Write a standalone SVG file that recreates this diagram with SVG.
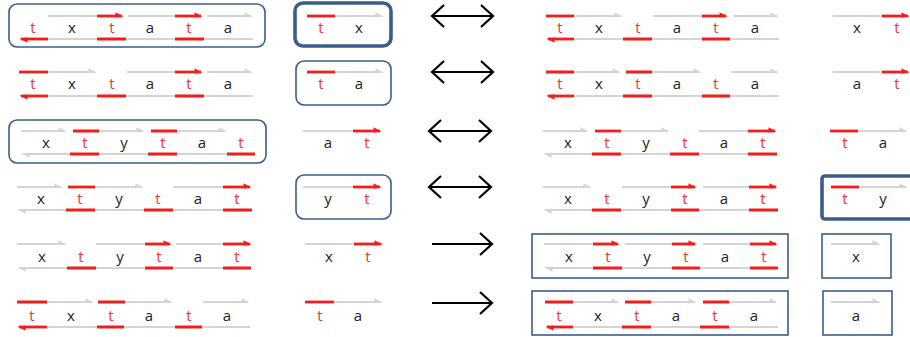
<svg xmlns="http://www.w3.org/2000/svg" width="910" height="337" viewBox="0 0 910 337">
<style>
.g{stroke:#d4d4d4;stroke-width:2.2;fill:none}
.r{stroke:#f21d1d;stroke-width:2.8;fill:none}
text{font-family:"Open Sans","DejaVu Sans",sans-serif;font-size:15px;fill:#222;text-anchor:middle}
text.t{fill:#f03434}
.box{fill:none;stroke:#3a5d8a;stroke-width:1.6}
.thick{stroke-width:3.6}
.conn{stroke:#000;stroke-width:2.2;fill:none}
</style>
<defs>
<marker id="mr" viewBox="-10 -6 12 12" refX="0" refY="0" markerWidth="12" markerHeight="12" markerUnits="userSpaceOnUse" orient="auto" overflow="visible"><path d="M1.5,0.5 L-6.5,-3.8 L-6.5,1.4 Z" fill="#f21d1d"/></marker>
<marker id="mg" viewBox="-10 -6 12 12" refX="0" refY="0" markerWidth="12" markerHeight="12" markerUnits="userSpaceOnUse" orient="auto" overflow="visible"><path d="M1.5,0.5 L-6.5,-3.8 L-6.5,1.2 Z" fill="#d4d4d4"/></marker>
<marker id="ch" viewBox="-14 -13 16 26" refX="0" refY="0" markerWidth="16" markerHeight="26" markerUnits="userSpaceOnUse" orient="auto-start-reverse" overflow="visible"><path d="M-12,-11 L0,0 L-12,11" stroke="#000" stroke-width="2.2" fill="none"/></marker>
</defs>

<!-- column 1 -->
<g id="a1">
<rect class="box" x="9" y="4" width="256" height="43" rx="8"/>
<line class="g" x1="48" y1="16" x2="97" y2="16"/>
<line class="r" x1="97" y1="16" x2="122" y2="16" marker-end="url(#mr)"/>
<line class="g" x1="128" y1="16" x2="175" y2="16"/>
<line class="r" x1="175" y1="16" x2="201" y2="16" marker-end="url(#mr)"/>
<line class="g" x1="207" y1="16" x2="251" y2="16" marker-end="url(#mg)"/>
<line class="r" x1="48" y1="39" x2="21" y2="39" marker-end="url(#mr)"/>
<path class="g" d="M48,39H97M126,39H175M204,39H253"/>
<path class="r" d="M97,39H126M175,39H204"/>
<text class="t" x="33" y="33">t</text><text x="72" y="33">x</text><text class="t" x="112" y="33">t</text><text x="150" y="33">a</text><text class="t" x="189" y="33">t</text><text x="228" y="33">a</text>
</g>
<g id="a2">
<path class="r" d="M19,72H48"/>
<line class="g" x1="48" y1="72" x2="95" y2="72" marker-end="url(#mg)"/>
<path class="g" d="M127,72H175"/>
<line class="r" x1="175" y1="72" x2="201" y2="72" marker-end="url(#mr)"/>
<line class="g" x1="207" y1="72" x2="251" y2="72" marker-end="url(#mg)"/>
<line class="r" x1="48" y1="96" x2="21" y2="96" marker-end="url(#mr)"/>
<path class="g" d="M48,96H97M126,96H175M204,96H253"/>
<path class="r" d="M97,96H126M175,96H204"/>
<text class="t" x="33" y="89">t</text><text x="72" y="89">x</text><text class="t" x="112" y="89">t</text><text x="150" y="89">a</text><text class="t" x="189" y="89">t</text><text x="228" y="89">a</text>
</g>
<g id="a3">
<rect class="box" x="9" y="120" width="257" height="43" rx="8"/>
<line class="g" x1="21" y1="131" x2="65" y2="131" marker-end="url(#mg)"/>
<path class="r" d="M73,131H99M151,131H177"/>
<line class="g" x1="99" y1="131" x2="143" y2="131" marker-end="url(#mg)"/>
<line class="g" x1="177" y1="131" x2="225" y2="131" marker-end="url(#mg)"/>
<line class="g" x1="70" y1="154" x2="23" y2="154" marker-end="url(#mg)"/>
<path class="r" d="M70,154H99M148,154H177M227,154H255"/>
<path class="g" d="M99,154H148M177,154H227"/>
<text x="46" y="148">x</text><text class="t" x="85" y="148">t</text><text x="124" y="148">y</text><text class="t" x="163" y="148">t</text><text x="202" y="148">a</text><text class="t" x="241" y="148">t</text>
</g>
<g id="a4">
<line class="g" x1="17" y1="187" x2="61" y2="187" marker-end="url(#mg)"/>
<path class="r" d="M68,187H95"/>
<line class="g" x1="95" y1="187" x2="142" y2="187" marker-end="url(#mg)"/>
<path class="g" d="M173,187H223"/>
<line class="r" x1="223" y1="187" x2="250" y2="187" marker-end="url(#mr)"/>
<line class="g" x1="66" y1="210" x2="19" y2="210" marker-end="url(#mg)"/>
<path class="r" d="M66,210H95M144,210H173M223,210H252"/>
<path class="g" d="M95,210H144M173,210H223"/>
<text x="41" y="204">x</text><text class="t" x="80" y="204">t</text><text x="119" y="204">y</text><text class="t" x="158" y="204">t</text><text x="198" y="204">a</text><text class="t" x="237" y="204">t</text>
</g>
<g id="a5">
<line class="g" x1="17" y1="244" x2="65" y2="244" marker-end="url(#mg)"/>
<path class="g" d="M96,244H145M176,244H223"/>
<line class="r" x1="145" y1="244" x2="170" y2="244" marker-end="url(#mr)"/>
<line class="r" x1="223" y1="244" x2="250" y2="244" marker-end="url(#mr)"/>
<line class="g" x1="67" y1="268" x2="19" y2="268" marker-end="url(#mg)"/>
<path class="r" d="M67,268H96M145,268H173M223,268H251"/>
<path class="g" d="M96,268H145M173,268H223"/>
<text x="42" y="262">x</text><text class="t" x="81" y="262">t</text><text x="120" y="262">y</text><text class="t" x="159" y="262">t</text><text x="198" y="262">a</text><text class="t" x="237" y="262">t</text>
</g>
<g id="a6">
<path class="r" d="M17,302H47M98,302H125"/>
<line class="g" x1="47" y1="302" x2="92" y2="302" marker-end="url(#mg)"/>
<line class="g" x1="125" y1="302" x2="171" y2="302" marker-end="url(#mg)"/>
<line class="g" x1="203" y1="302" x2="248" y2="302" marker-end="url(#mg)"/>
<line class="r" x1="47" y1="327" x2="19" y2="327" marker-end="url(#mr)"/>
<path class="g" d="M47,327H97M124,327H175M202,327H250"/>
<path class="r" d="M97,327H124M175,327H202"/>
<text class="t" x="32" y="321">t</text><text x="71" y="321">x</text><text class="t" x="111" y="321">t</text><text x="149" y="321">a</text><text class="t" x="189" y="321">t</text><text x="227" y="321">a</text>
</g>

<!-- column 2 -->
<g id="b1">
<rect class="box thick" x="295" y="3" width="96" height="43" rx="8"/>
<path class="r" d="M307,16H335"/>
<line class="g" x1="335" y1="16" x2="382" y2="16" marker-end="url(#mg)"/>
<text class="t" x="321" y="33">t</text><text x="359" y="33">x</text>
</g>
<g id="b2">
<rect class="box" x="296" y="61" width="95" height="44" rx="8"/>
<path class="r" d="M307,72H335"/>
<line class="g" x1="335" y1="72" x2="382" y2="72" marker-end="url(#mg)"/>
<text class="t" x="321" y="89">t</text><text x="359" y="89">a</text>
</g>
<g id="b3">
<path class="g" d="M303,131H353"/>
<line class="r" x1="353" y1="131" x2="380" y2="131" marker-end="url(#mr)"/>
<text x="328" y="148">a</text><text class="t" x="367" y="148">t</text>
</g>
<g id="b4">
<rect class="box" x="296" y="175" width="95" height="44" rx="8"/>
<path class="g" d="M303,187H353"/>
<line class="r" x1="353" y1="187" x2="380" y2="187" marker-end="url(#mr)"/>
<text x="328" y="204">y</text><text class="t" x="367" y="204">t</text>
</g>
<g id="b5">
<path class="g" d="M305,244H354"/>
<line class="r" x1="354" y1="244" x2="381" y2="244" marker-end="url(#mr)"/>
<text x="329" y="262">x</text><text class="t" x="368" y="262">t</text>
</g>
<g id="b6">
<path class="r" d="M305,302H334"/>
<line class="g" x1="334" y1="302" x2="381" y2="302" marker-end="url(#mg)"/>
<text class="t" x="320" y="321">t</text><text x="358" y="321">a</text>
</g>

<!-- connectors -->
<g id="connectors">
<line class="conn" x1="432" y1="16" x2="493" y2="16" marker-start="url(#ch)" marker-end="url(#ch)"/>
<line class="conn" x1="432" y1="72" x2="493" y2="72" marker-start="url(#ch)" marker-end="url(#ch)"/>
<line class="conn" x1="429" y1="131" x2="491" y2="131" marker-start="url(#ch)" marker-end="url(#ch)"/>
<line class="conn" x1="429" y1="187" x2="491" y2="187" marker-start="url(#ch)" marker-end="url(#ch)"/>
<line class="conn" x1="432" y1="244" x2="492" y2="244" marker-end="url(#ch)"/>
<line class="conn" x1="432" y1="303" x2="492" y2="303" marker-end="url(#ch)"/>
</g>

<!-- column 3 -->
<g id="c1">
<path class="r" d="M546,16H574"/>
<line class="g" x1="574" y1="16" x2="621" y2="16" marker-end="url(#mg)"/>
<path class="g" d="M653,16H702"/>
<line class="r" x1="702" y1="16" x2="726" y2="16" marker-end="url(#mr)"/>
<line class="g" x1="733" y1="16" x2="777" y2="16" marker-end="url(#mg)"/>
<line class="r" x1="574" y1="39" x2="548" y2="39" marker-end="url(#mr)"/>
<path class="g" d="M574,39H623M652,39H702M730,39H779"/>
<path class="r" d="M623,39H652M702,39H730"/>
<text class="t" x="560" y="33">t</text><text x="599" y="33">x</text><text class="t" x="638" y="33">t</text><text x="677" y="33">a</text><text class="t" x="716" y="33">t</text><text x="755" y="33">a</text>
</g>
<g id="c2">
<path class="r" d="M546,72H574M626,72H652"/>
<line class="g" x1="574" y1="72" x2="619" y2="72" marker-end="url(#mg)"/>
<line class="g" x1="652" y1="72" x2="700" y2="72" marker-end="url(#mg)"/>
<line class="g" x1="731" y1="72" x2="777" y2="72" marker-end="url(#mg)"/>
<line class="r" x1="574" y1="96" x2="548" y2="96" marker-end="url(#mr)"/>
<path class="g" d="M574,96H623M652,96H702M730,96H779"/>
<path class="r" d="M623,96H652M702,96H730"/>
<text class="t" x="560" y="89">t</text><text x="599" y="89">x</text><text class="t" x="638" y="89">t</text><text x="677" y="89">a</text><text class="t" x="716" y="89">t</text><text x="755" y="89">a</text>
</g>
<g id="c3">
<line class="g" x1="543" y1="131" x2="587" y2="131" marker-end="url(#mg)"/>
<path class="r" d="M595,131H621"/>
<line class="g" x1="621" y1="131" x2="668" y2="131" marker-end="url(#mg)"/>
<path class="g" d="M699,131H748"/>
<line class="r" x1="748" y1="131" x2="775" y2="131" marker-end="url(#mr)"/>
<line class="g" x1="592" y1="154" x2="545" y2="154" marker-end="url(#mg)"/>
<path class="r" d="M592,154H621M670,154H699M748,154H777"/>
<path class="g" d="M621,154H670M699,154H748"/>
<text x="568" y="148">x</text><text class="t" x="607" y="148">t</text><text x="646" y="148">y</text><text class="t" x="685" y="148">t</text><text x="724" y="148">a</text><text class="t" x="763" y="148">t</text>
</g>
<g id="c4">
<line class="g" x1="543" y1="187" x2="590" y2="187" marker-end="url(#mg)"/>
<path class="g" d="M622,187H671M703,187H749"/>
<line class="r" x1="671" y1="187" x2="695" y2="187" marker-end="url(#mr)"/>
<line class="r" x1="749" y1="187" x2="776" y2="187" marker-end="url(#mr)"/>
<line class="g" x1="592" y1="210" x2="545" y2="210" marker-end="url(#mg)"/>
<path class="r" d="M592,210H621M671,210H699M749,210H778"/>
<path class="g" d="M621,210H671M699,210H749"/>
<text x="568" y="204">x</text><text class="t" x="607" y="204">t</text><text x="646" y="204">y</text><text class="t" x="685" y="204">t</text><text x="724" y="204">a</text><text class="t" x="763" y="204">t</text>
</g>
<g id="c5">
<rect class="box" x="532" y="234" width="256" height="44"/>
<path class="g" d="M544,244H593M625,244H672M703,244H750"/>
<line class="r" x1="593" y1="244" x2="618" y2="244" marker-end="url(#mr)"/>
<line class="r" x1="672" y1="244" x2="695" y2="244" marker-end="url(#mr)"/>
<line class="r" x1="750" y1="244" x2="776" y2="244" marker-end="url(#mr)"/>
<line class="g" x1="593" y1="268" x2="546" y2="268" marker-end="url(#mg)"/>
<path class="r" d="M593,268H622M672,268H700M750,268H778"/>
<path class="g" d="M622,268H672M700,268H750"/>
<text x="569" y="262">x</text><text class="t" x="608" y="262">t</text><text x="647" y="262">y</text><text class="t" x="686" y="262">t</text><text x="725" y="262">a</text><text class="t" x="764" y="262">t</text>
</g>
<g id="c6">
<rect class="box" x="532" y="291" width="256" height="44"/>
<path class="r" d="M545,302H573M625,302H651M703,302H729"/>
<line class="g" x1="573" y1="302" x2="618" y2="302" marker-end="url(#mg)"/>
<line class="g" x1="651" y1="302" x2="695" y2="302" marker-end="url(#mg)"/>
<line class="g" x1="729" y1="302" x2="776" y2="302" marker-end="url(#mg)"/>
<line class="r" x1="573" y1="327" x2="547" y2="327" marker-end="url(#mr)"/>
<path class="g" d="M573,327H622M651,327H700M729,327H778"/>
<path class="r" d="M622,327H651M700,327H729"/>
<text class="t" x="559" y="321">t</text><text x="598" y="321">x</text><text class="t" x="637" y="321">t</text><text x="676" y="321">a</text><text class="t" x="715" y="321">t</text><text x="754" y="321">a</text>
</g>

<!-- column 4 -->
<g id="d1">
<path class="g" d="M833,16H882"/>
<line class="r" x1="882" y1="16" x2="908" y2="16" marker-end="url(#mr)"/>
<text x="857" y="33">x</text><text class="t" x="897" y="33">t</text>
</g>
<g id="d2">
<path class="g" d="M833,72H882"/>
<line class="r" x1="882" y1="72" x2="908" y2="72" marker-end="url(#mr)"/>
<text x="857" y="89">a</text><text class="t" x="897" y="89">t</text>
</g>
<g id="d3">
<path class="r" d="M830,131H858"/>
<line class="g" x1="858" y1="131" x2="906" y2="131" marker-end="url(#mg)"/>
<text class="t" x="845" y="148">t</text><text x="883" y="148">a</text>
</g>
<g id="d4">
<rect class="box thick" x="822" y="176" width="100" height="43" rx="3"/>
<path class="r" d="M831,187H859"/>
<line class="g" x1="859" y1="187" x2="906" y2="187" marker-end="url(#mg)"/>
<text class="t" x="845" y="204">t</text><text x="883" y="204">y</text>
</g>
<g id="d5">
<rect class="box" x="822" y="234" width="69" height="44"/>
<line class="g" x1="831" y1="244" x2="879" y2="244" marker-end="url(#mg)"/>
<text x="856" y="262">x</text>
</g>
<g id="d6">
<rect class="box" x="823" y="291" width="69" height="44"/>
<line class="g" x1="831" y1="302" x2="879" y2="302" marker-end="url(#mg)"/>
<text x="856" y="321">a</text>
</g>
</svg>
